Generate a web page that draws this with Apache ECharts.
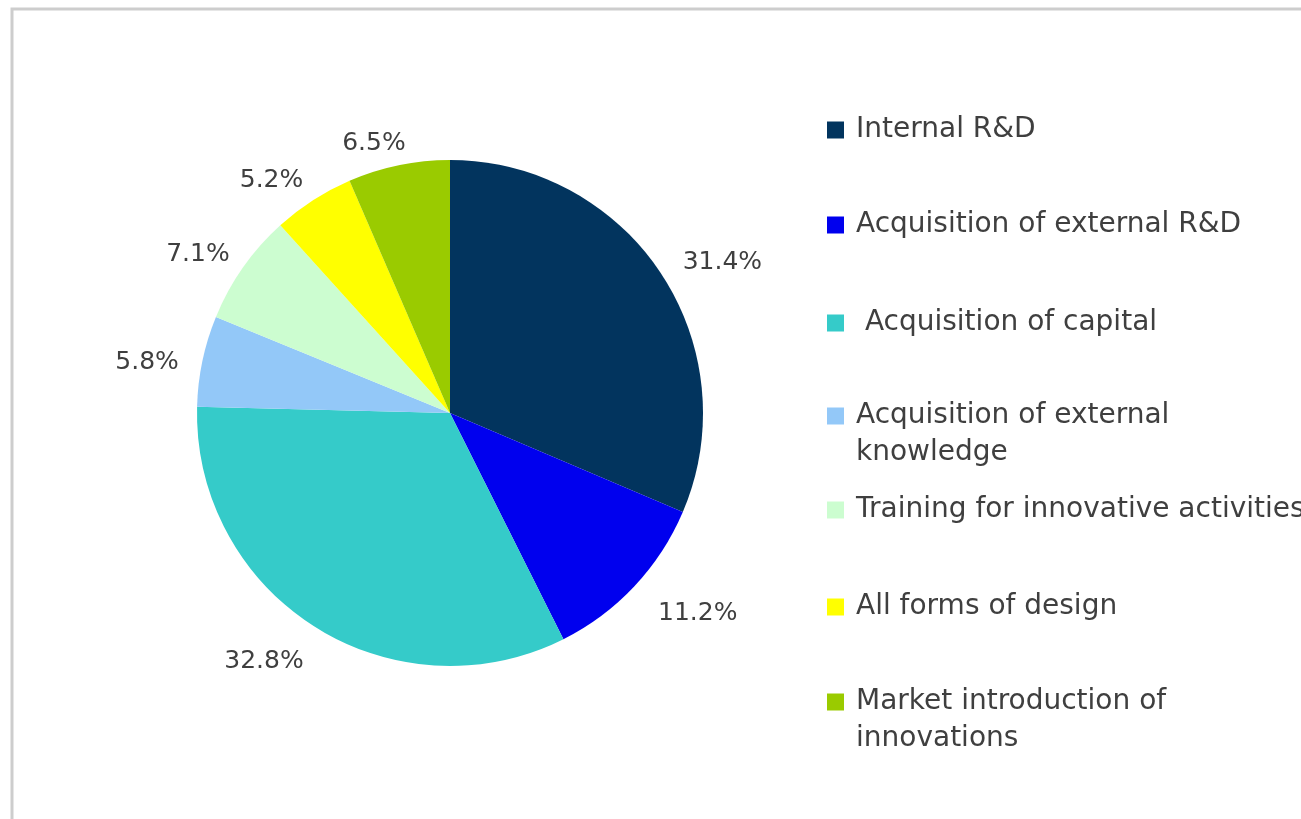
<!DOCTYPE html>
<html>
<head>
<meta charset="utf-8">
<title>Innovation expenditure structure</title>
<script src="https://cdn.jsdelivr.net/npm/echarts@6/dist/echarts.min.js"></script>
<style>
  html, body { margin: 0; padding: 0; background: #ffffff; }
  #chart { width: 1301px; height: 819px; }
</style>
</head>
<body>
<div id="chart"></div>
<script>
// Shares of innovation expenditure by type of activity (%)
const categories = [
  'Internal R&D',
  'Acquisition of external R&D',
  ' Acquisition of capital',
  'Acquisition of external\nknowledge',
  'Training for innovative activities',
  'All forms of design',
  'Market introduction of\ninnovations'
];
const shares = [31.4, 11.2, 32.8, 5.8, 7.1, 5.2, 6.5];
const sliceColors = ['#02345e', '#0000ee', '#35cbc9', '#93c8f8', '#ccfdd0', '#ffff00', '#9acb00'];

// Legend rows: vertical position of each entry's first line
const legendRowTops = [128, 223, 321, 414, 508, 605, 700];

// Small nudges for the percentage labels so they clear the pie edge evenly
const labelNudges = [[-1, 0], [3, 14], [6, 18], [2, 6], [9, -2], [7, -3], [17, -2]];

const FONT = 'DejaVu Sans';
const TEXT_COLOR = '#3f3f3f';
const LEGEND_FONT_SIZE = 28;
const LABEL_FONT_SIZE = 25;

const chart = echarts.init(document.getElementById('chart'), null, { renderer: 'canvas' });

const pieData = categories.map((name, i) => ({
  name: name,
  value: shares[i],
  itemStyle: { color: sliceColors[i] },
  label: { offset: labelNudges[i] }
}));

// One legend component per row so each row sits at its own height;
// only the first line of a two-line name goes in the legend row.
const legends = categories.map((name, i) => ({
  data: [name],
  orient: 'vertical',
  left: 822,
  top: legendRowTops[i] - 17,
  itemWidth: 17,
  itemHeight: 17,
  itemGap: 0,
  selectedMode: false,
  icon: 'rect',
  formatter: n => n.split('\n')[0],
  textStyle: {
    fontFamily: FONT,
    fontSize: LEGEND_FONT_SIZE,
    color: TEXT_COLOR,
    padding: [0, 0, 0, 7]
  }
}));

// Second lines of the wrapped legend names
const continuationLines = [];
categories.forEach((name, i) => {
  const parts = name.split('\n');
  if (parts.length > 1) {
    continuationLines.push({
      type: 'text',
      left: 856,
      top: legendRowTops[i] + 25,
      style: {
        text: parts[1],
        font: LEGEND_FONT_SIZE + 'px "' + FONT + '"',
        fill: TEXT_COLOR
      }
    });
  }
});

const option = {
  backgroundColor: '#ffffff',
  animation: false,
  legend: legends,
  graphic: [
    {
      // frame: left and top edges, running off the bottom and right of the page
      type: 'polyline',
      shape: { points: [[12, 830], [12, 9], [1320, 9]] },
      style: { fill: 'none', stroke: '#cdcdcd', lineWidth: 3 },
      silent: true
    }
  ].concat(continuationLines),
  series: [
    {
      type: 'pie',
      center: [450, 413],
      radius: 253,
      startAngle: 90,
      clockwise: true,
      avoidLabelOverlap: false,
      data: pieData,
      label: {
        show: true,
        position: 'outside',
        formatter: p => p.value.toFixed(1) + '%',
        fontFamily: FONT,
        fontSize: LABEL_FONT_SIZE,
        color: TEXT_COLOR
      },
      labelLine: { show: false, length: 20, length2: 1 },
      itemStyle: { borderWidth: 0 },
      emphasis: { disabled: true }
    }
  ]
};

chart.setOption(option);
</script>
</body>
</html>
